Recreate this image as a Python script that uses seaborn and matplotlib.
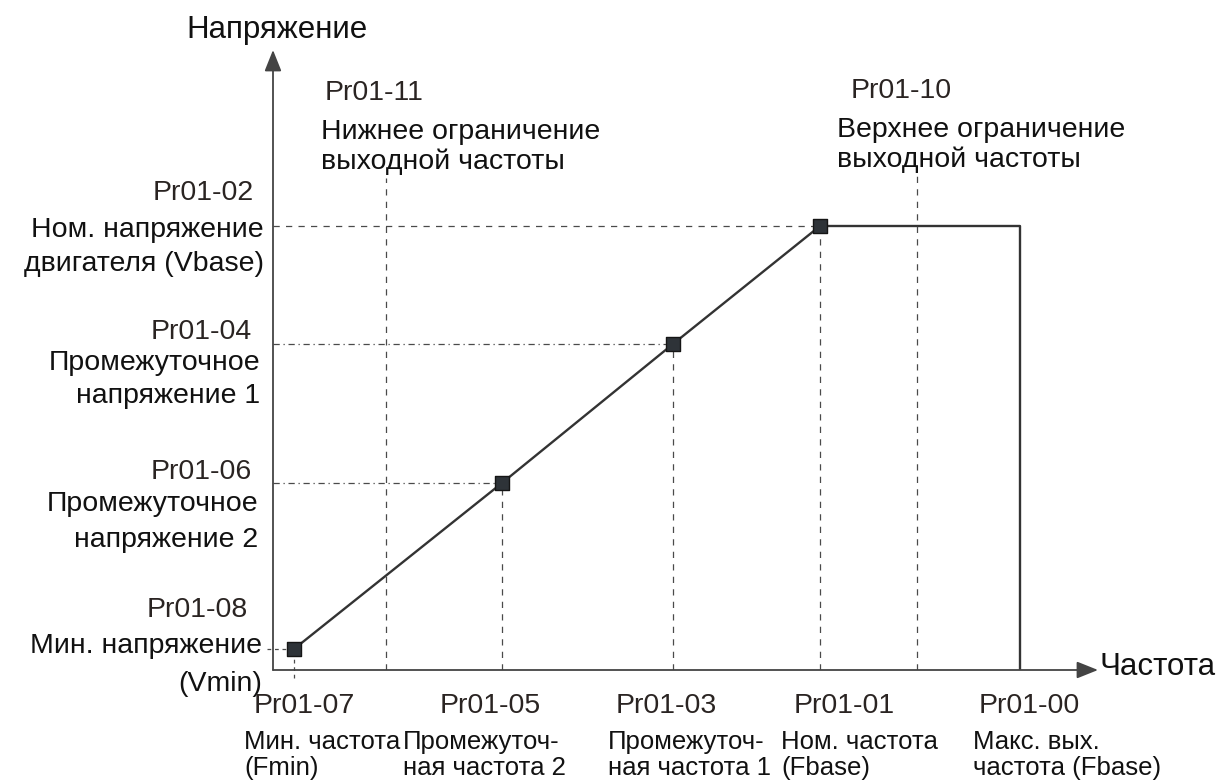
import numpy as np
import pandas as pd
import matplotlib
matplotlib.use("Agg")
import matplotlib.pyplot as plt
from matplotlib.patches import ArrowStyle
import seaborn as sns

# V/f curve (schematic units)
freq_points = [2.1, 22.9, 40.0, 54.7]      # Fmin, F2, F1, Fbase
volt_points = [2.1, 18.7, 32.6, 44.4]      # Vmin, V2, V1, Vbase
f_max = 74.7                               # max output freq
f_low_limit = 11.3                         # Pr01-11
f_high_limit = 64.4                        # Pr01-10
x_end = 82.5
y_end = 62.0

# labels
y_labels = [
    ("Pr01-02", ["Ном. напряжение", "двигателя (Vbase)"]),
    ("Pr01-04", ["Промежуточное", "напряжение 1"]),
    ("Pr01-06", ["Промежуточное", "напряжение 2"]),
    ("Pr01-08", ["Мин. напряжение", "(Vmin)"]),
]
x_labels = [
    ("Pr01-07", ["Мин. частота", "(Fmin)"]),
    ("Pr01-05", ["Промежуточ-", "ная частота 2"]),
    ("Pr01-03", ["Промежуточ-", "ная частота 1"]),
    ("Pr01-01", ["Ном. частота", "(Fbase)"]),
    ("Pr01-00", ["Макс. вых.", "частота (Fbase)"]),
]

sns.set_theme(style="white")
plt.rcParams["font.family"] = ["Liberation Sans", "DejaVu Sans"]

W, H = 1221, 781
fig = plt.figure(figsize=(W / 100, H / 100), dpi=100)
ax = fig.add_axes([273 / W, 111 / H, 825 / W, 620 / H])
ax.set_xlim(0, x_end)
ax.set_ylim(0, y_end)
ax.axis("off")

# curve
curve = pd.DataFrame({
    "f": freq_points + [f_max, f_max],
    "v": volt_points + [volt_points[-1], 0],
})
sns.lineplot(data=curve, x="f", y="v", sort=False, estimator=None,
             color="#333333", lw=1.7, ax=ax)
pts = pd.DataFrame({"f": freq_points, "v": volt_points})
sns.scatterplot(data=pts, x="f", y="v", marker="s", s=105, color="#2e3338",
                edgecolor="#151515", linewidth=1, zorder=5, ax=ax)

guide = dict(color="#4a4a4a", lw=0.9)
# horizontal guides
ax.hlines(volt_points[3], 0, freq_points[3], linestyles=(0, (5, 5)), **guide)
ax.hlines(volt_points[2], 0, freq_points[2], linestyles=(0, (5, 3, 1, 3)), **guide)
ax.hlines(volt_points[1], 0, freq_points[1], linestyles=(0, (5, 3, 1, 3)), **guide)
ax.hlines(volt_points[0], -0.6, freq_points[0], linestyles=(0, (3, 3)), clip_on=False, **guide)
# vertical guides
ax.vlines(freq_points[0], -0.8, volt_points[0], linestyles=(0, (3, 3)), clip_on=False, **guide)
for f, v in zip(freq_points[1:], volt_points[1:]):
    ax.vlines(f, 0, v, linestyles=(0, (5, 5)), **guide)
ax.vlines(f_low_limit, 0, 49.2, linestyles=(0, (5, 5)), **guide)
ax.vlines(f_high_limit, 0, 49.8, linestyles=(0, (5, 5)), **guide)

# axes with arrows
head = ArrowStyle("-|>", head_length=0.5, head_width=0.2)
for xy in [(0, 1), (1, 0)]:
    ax.annotate("", xy=xy, xytext=(0, 0), xycoords="axes fraction",
                arrowprops=dict(arrowstyle=head, color="#444444", lw=1.3,
                                mutation_scale=26, shrinkA=0, shrinkB=0))


def px(x, y):
    return x / W, 1 - y / H


TXT = "#111111"
PR = "#2a2422"
FS = 20.5
FS_B = 18.5

fig.text(*px(277, 38), "Напряжение", fontsize=22.5, color=TXT, ha="center", va="baseline")
fig.text(*px(1100, 675), "Частота", fontsize=22.5, color=TXT, ha="left", va="baseline")

# top limit labels
fig.text(*px(325, 100), "Pr01-11", fontsize=FS, color=PR, va="baseline")
fig.text(*px(321, 139), "Нижнее ограничение", fontsize=FS, color=TXT, va="baseline")
fig.text(*px(321, 169), "выходной частоты", fontsize=FS, color=TXT, va="baseline")
fig.text(*px(851, 98), "Pr01-10", fontsize=FS, color=PR, va="baseline")
fig.text(*px(837, 137), "Верхнее ограничение", fontsize=FS, color=TXT, va="baseline")
fig.text(*px(837, 167), "выходной частоты", fontsize=FS, color=TXT, va="baseline")

# voltage labels (left)
y_pos = [(254, 200, 264, 237, 271), (252, 339, 260, 370, 403),
         (252, 479, 258, 511, 547), (248, 617, 262, 653, 691)]
for (code, lines), (xr1, yb1, xr2, yb2, yb3) in zip(y_labels, y_pos):
    fig.text(*px(xr1, yb1), code, fontsize=FS, color=PR, ha="right", va="baseline")
    fig.text(*px(xr2, yb2), lines[0], fontsize=FS, color=TXT, ha="right", va="baseline")
    fig.text(*px(xr2, yb3), lines[1], fontsize=FS, color=TXT, ha="right", va="baseline")

# frequency labels (bottom)
x_pos = [(254, 244), (440, 403), (616, 608), (794, 781), (979, 973)]
for (code, lines), (xl1, xl2) in zip(x_labels, x_pos):
    fig.text(*px(xl1, 713), code, fontsize=FS, color=PR, va="baseline")
    fig.text(*px(xl2, 749), lines[0], fontsize=FS_B, color=TXT, va="baseline")
    fig.text(*px(xl2, 775), lines[1], fontsize=FS_B, color=TXT, va="baseline")

fig.savefig("out.png", dpi=100, facecolor="white")
